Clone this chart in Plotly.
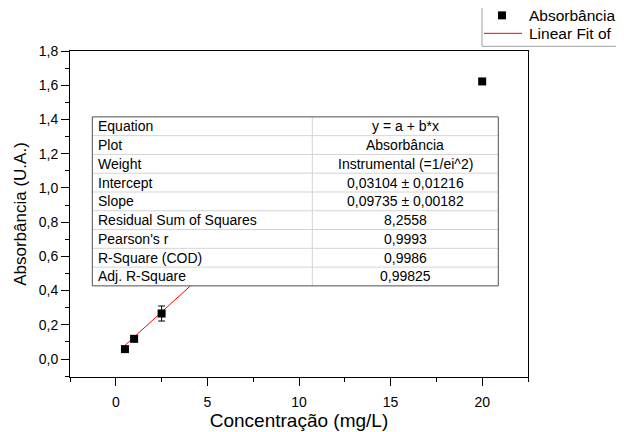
import plotly.graph_objects as go

# ---- data ----
conc = [0.5, 1.0, 2.5, 20.0]
absorb = [0.058, 0.118, 0.266, 1.622]
absorb_err = [0.006, 0.008, 0.044, 0.008]

intercept = 0.03104
slope = 0.09735
fit_x = [0.5, 5.0]
fit_y = [intercept + slope * x for x in fit_x]

x_ticks = [0, 5, 10, 15, 20]
y_ticks = [0.0, 0.2, 0.4, 0.6, 0.8, 1.0, 1.2, 1.4, 1.6, 1.8]
y_ticklabels = ["0,0", "0,2", "0,4", "0,6", "0,8", "1,0", "1,2", "1,4", "1,6", "1,8"]

table_labels = ["Equation", "Plot", "Weight", "Intercept", "Slope",
                "Residual Sum of Squares", "Pearson's r", "R-Square (COD)", "Adj. R-Square"]
table_values = ["y = a + b*x", "Absorbância", "Instrumental (=1/ei^2)",
                "0,03104 ± 0,01216", "0,09735 ± 0,00182", "8,2558",
                "0,9993", "0,9986", "0,99825"]

legend_names = ["Absorbância", "Linear Fit of"]

FONT = "Liberation Sans, Arial, sans-serif"

fig = go.Figure()
fig.add_trace(go.Scatter(
    x=fit_x, y=fit_y, mode="lines", name=legend_names[1],
    line=dict(color="#ff0000", width=1),
))
fig.add_trace(go.Scatter(
    x=conc, y=absorb, mode="markers", name=legend_names[0],
    marker=dict(symbol="square", size=8, color="black"),
    error_y=dict(type="data", array=absorb_err, color="black", thickness=1, width=3.5),
))

# pixel (as seen on the page) -> paper helpers; plot area spans x 70..528, y 51..377
PL, PW, PB, PH = 70.0, 458.0, 377.3, 326.6
def px(x):
    return (x - PL) / PW
def py(y):
    return (PB - y) / PH

# ---- table (white box drawn above the data) ----
L, R, D = px(92.3), px(498.3), px(312.3)
T, B = py(116.7), py(286.0)
n = len(table_labels)
rh = (T - B) / n
shapes = [dict(type="rect", xref="paper", yref="paper", x0=L, x1=R, y0=B, y1=T,
               fillcolor="white", line=dict(width=0), layer="above")]
for i in range(1, n):
    yy = T - i * rh
    shapes.append(dict(type="line", xref="paper", yref="paper", x0=L, x1=R, y0=yy, y1=yy,
                       line=dict(color="#d4d4d4", width=1), layer="above"))
shapes.append(dict(type="line", xref="paper", yref="paper", x0=D, x1=D, y0=B, y1=T,
                   line=dict(color="#d4d4d4", width=1), layer="above"))
shapes.append(dict(type="rect", xref="paper", yref="paper", x0=L, x1=R, y0=B, y1=T,
                   line=dict(color="#505050", width=1), layer="above"))

annotations = []
for i, (lab, val) in enumerate(zip(table_labels, table_values)):
    yc = T - (i + 0.5) * rh
    annotations.append(dict(xref="paper", yref="paper", x=px(96), y=yc, text=lab,
                            showarrow=False, xanchor="left", yanchor="middle",
                            font=dict(family=FONT, size=14, color="black")))
    annotations.append(dict(xref="paper", yref="paper", x=(D + R) / 2, y=yc, text=val,
                            showarrow=False, xanchor="center", yanchor="middle",
                            font=dict(family=FONT, size=14, color="black")))

# ---- legend box (top right, running off the page like the original) ----
shapes.append(dict(type="rect", xref="paper", yref="paper", x0=px(482), x1=px(660),
                   y0=py(46), y1=py(5), fillcolor="white",
                   line=dict(color="#a0a0a0", width=1), layer="above"))
shapes.append(dict(type="rect", xref="paper", yref="paper", x0=px(498), x1=px(506),
                   y0=py(19), y1=py(11), fillcolor="black", line=dict(width=0), layer="above"))
shapes.append(dict(type="line", xref="paper", yref="paper", x0=px(484), x1=px(522),
                   y0=py(33), y1=py(33), line=dict(color="#ff0000", width=1), layer="above"))
for name, yy in zip(legend_names, [15, 33]):
    annotations.append(dict(xref="paper", yref="paper", x=px(527), y=py(yy), text=name,
                            showarrow=False, xanchor="left", yanchor="middle",
                            font=dict(family=FONT, size=15.5, color="black")))

# the page body adds an 8px offset, so the figure is 616x424 and margins are shifted by 8
fig.update_layout(
    template="none",
    width=616, height=424,
    margin=dict(l=62, r=96, t=43, b=55, autoexpand=False),
    paper_bgcolor="white", plot_bgcolor="white",
    font=dict(family=FONT, color="black"),
    showlegend=False,
    shapes=shapes,
    annotations=annotations,
)
fig.update_xaxes(
    automargin=True,
    range=[-2.5, 22.5], tickvals=x_ticks, ticktext=[str(v) for v in x_ticks],
    ticks="outside", ticklen=8, tickwidth=1, tickcolor="black",
    minor=dict(ticks="outside", ticklen=4, dtick=2.5, tick0=0, tickcolor="black"),
    showline=True, linecolor="black", linewidth=1, mirror=True,
    showgrid=False, zeroline=False, ticklabelstandoff=4,
    tickfont=dict(family=FONT, size=14, color="black"),
    title=dict(text="Concentração (mg/L)", font=dict(family=FONT, size=19, color="black"), standoff=3),
)
fig.update_yaxes(
    automargin=False,
    range=[-0.105, 1.8], tickvals=y_ticks, ticktext=y_ticklabels,
    ticks="outside", ticklen=8, tickwidth=1, tickcolor="black",
    minor=dict(ticks="outside", ticklen=4, dtick=0.1, tick0=0, tickcolor="black"),
    showline=True, linecolor="black", linewidth=1, mirror=True,
    showgrid=False, zeroline=False,
    tickfont=dict(family=FONT, size=14, color="black"),
    title=dict(text="Absorbância (U.A.)", font=dict(family=FONT, size=17, color="black"), standoff=7),
)

fig.write_html("out.html")
